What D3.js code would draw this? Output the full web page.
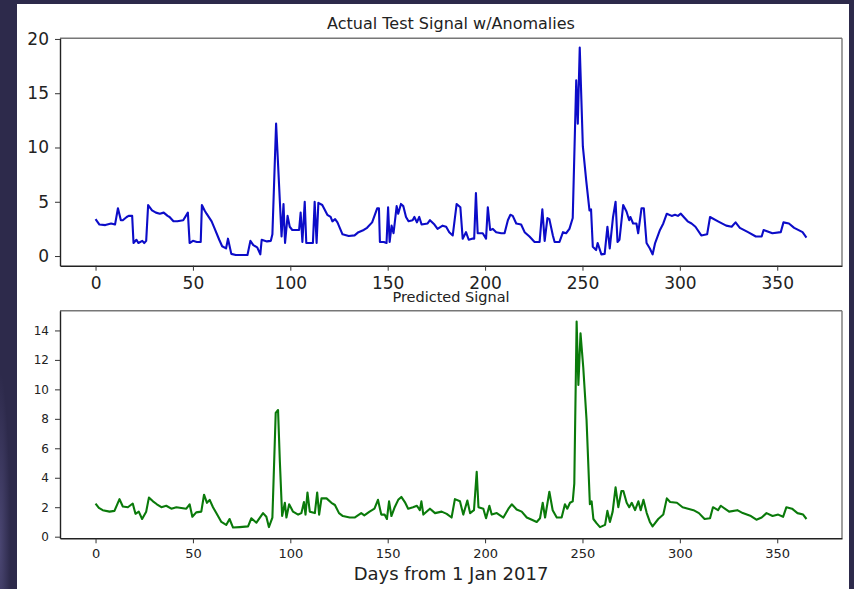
<!DOCTYPE html>
<html>
<head>
<meta charset="utf-8">
<script src="https://cdn.jsdelivr.net/npm/d3@7"></script>
<style>
html,body{margin:0;padding:0;background:#2d2a4b;}
svg{display:block;}
text{font-family:"DejaVu Sans",sans-serif;fill:#222;}
</style>
</head>
<body>
<svg id="chart" width="854" height="589"></svg>
<script>
// ---- data ----
const actualDays = [0,2,5,8,10,11.5,13,14,16,17,18.8,19.5,21,22,24,25,26,27,29,31,33,35,37,38,40,42,45,47.4,48.3,50,52,54,54.6,56,57,59.6,61,63.5,65,67,68,69.7,72,75,78,79.5,81,83,84.6,85.3,88,90,90.8,92.7,95.5,96.5,97.3,98.6,99.7,101,104.5,105.3,106.2,107.4,108.2,111.6,112.5,113.5,114.4,116.4,119,120.7,121.6,123,124.2,126.8,130,133,135,137.7,139.4,142,144.6,145.5,146,148,149.4,150.2,151,152,153,154.6,155.4,156.8,158,159.4,160.7,162.8,163.7,165,166.2,167.4,170.5,171.7,174,175.6,178.2,180,181.6,183.4,185.4,187.3,188.5,190.2,191.6,193.3,194.4,195.3,196.2,198.8,200.5,201.4,202.6,204,205.7,208.3,210,211.7,213,214.2,216,218.5,220.3,222.8,225.4,228,229.4,230.6,232,233,234.8,235.7,238.2,240,241.6,243.3,245,246.8,247.6,248.6,250.2,251.9,253.6,254.4,255.3,257,257.8,259.7,261.4,262.8,264,265.7,267,268,269,270.9,272.6,274,274.6,276,277.7,278.6,280.3,281.5,282.9,284.6,286,287.3,289.8,291.5,293.3,295.8,297.5,299,300.5,302,304,306,308,311,314,315.5,319.6,323.8,326.6,328.6,330.8,335,339,342,343,347.5,351.8,353.2,356,358.7,363,365];
const actualVals = [3.4,2.9,2.85,3.0,2.9,4.4,3.3,3.3,3.6,3.7,3.7,1.2,1.5,1.2,1.4,1.2,1.4,4.7,4.2,4.0,3.9,4.0,3.7,3.6,3.2,3.2,3.3,4.0,1.2,1.4,1.3,1.3,4.7,4.2,3.9,3.2,2.6,1.5,0.9,0.7,1.6,0.2,0.1,0.1,0.1,1.4,1.0,0.8,0.15,1.5,1.35,1.4,2.0,12.2,1.8,4.8,1.2,3.7,2.7,2.4,2.4,4.0,1.3,5.0,1.2,1.2,5.0,1.2,4.9,4.7,3.8,3.6,3.2,3.4,3.1,2.0,1.85,1.9,2.2,2.4,2.6,3.1,4.4,4.4,1.3,1.3,1.2,4.5,1.3,2.8,2.1,4.6,3.9,4.8,4.6,3.6,3.2,3.3,3.6,3.1,3.6,2.9,3.0,3.3,2.9,2.5,2.8,2.7,2.2,1.9,4.8,4.5,1.6,2.2,1.5,1.6,1.6,5.8,2.1,2.1,1.6,4.5,2.4,2.5,2.2,2.1,2.1,3.3,3.8,3.7,3.0,2.9,2.2,1.8,1.3,1.3,4.3,1.4,3.5,3.4,1.9,1.3,1.3,2.2,2.1,2.5,3.5,16.2,12.2,19.2,10.1,7.0,4.2,4.3,0.85,0.55,1.2,0.15,0.2,2.7,0.7,3.6,5.0,1.3,1.5,4.7,4.1,3.3,3.6,3.0,3.0,2.1,4.4,4.4,1.2,0.7,0.15,1.2,2.4,3.0,3.9,3.7,3.8,3.7,3.9,3.6,3.2,3.0,2.7,1.9,2.0,3.6,3.2,2.8,2.7,3.1,2.6,2.2,1.8,1.8,2.4,2.1,2.2,3.1,3.0,2.6,2.2,1.7];

const predDays = [0,1.7,3.7,7.2,9.7,12.3,14,16.6,19.1,20.5,22.2,23.9,26,27.4,29.5,31.5,33.8,36.3,38.9,41.5,44,46.6,48.3,49.7,51.7,54.3,55.7,57.2,58.6,60.3,62,64.6,67.1,68.8,70.6,74,78.3,80,82.6,86,87.7,89,90.8,92.5,93.7,94.6,95.8,97.2,98,99.4,101.4,104,105.7,107,107.8,108.8,110,112.6,113.8,114.8,116,118.6,121.1,122.9,125,127,130.5,133,136.4,138,140.7,143.2,145,146.7,148.4,149.6,150.7,151.9,153.6,155.4,157,158.8,160.5,163,165,166.5,167.3,168.3,171.7,174.3,177.7,180.3,182.8,184.5,187.1,188.8,190.9,192.3,194.3,195.7,196.6,199.1,200.5,202.2,203.4,206,209.4,212,213.7,216.2,218.8,221.4,224,226.5,228.2,229.6,230.8,233,234.7,236.8,239.3,241,242.2,243.6,245,245.8,247,247.9,249,250.4,252.1,253.8,254.7,255.6,257.3,259,261.6,262.8,264.1,265.5,267,268.4,270,271,272.7,274,275.3,277,278.7,279.9,281.3,283,284.6,286,288.9,291.5,293.3,295,298.5,301.4,307,309.8,312.7,315.5,317,319.6,321,325.3,329.5,332.3,336.5,339.3,342,344.5,347.6,350.5,353,354.7,357.6,360.4,363.3,365];
const predVals = [2.25,1.95,1.8,1.7,1.75,2.55,2.05,2.0,2.25,1.55,1.7,1.2,1.7,2.65,2.4,2.2,2.0,2.1,1.9,2.0,1.95,1.9,2.2,1.35,1.65,1.7,2.85,2.3,2.5,2.0,1.6,1.0,0.8,1.2,0.62,0.65,0.7,1.25,0.95,1.6,1.35,0.65,1.3,8.4,8.6,5.2,1.4,2.3,1.3,2.2,1.7,1.5,1.6,2.35,1.5,3.0,1.7,1.6,3.0,1.5,2.6,2.6,2.3,2.15,1.6,1.4,1.3,1.3,1.6,1.45,1.7,1.9,2.5,1.5,1.5,1.2,2.4,1.4,2.0,2.5,2.7,2.35,1.9,2.0,2.1,1.8,2.4,1.5,1.9,1.6,1.7,1.55,1.3,2.55,2.4,1.5,2.45,1.6,1.8,4.4,2.0,1.9,1.25,2.1,1.5,1.6,1.3,1.9,2.2,1.85,1.7,1.3,1.15,1.0,1.25,2.3,1.3,3.05,1.8,1.3,1.3,2.2,1.9,2.3,2.4,3.6,14.6,10.3,13.8,11.5,7.9,2.2,2.4,1.2,0.9,0.65,0.8,1.75,1.0,1.7,3.35,2.0,3.1,3.1,2.3,2.0,2.3,1.8,2.4,1.8,2.5,1.6,1.0,0.7,1.2,1.5,2.6,2.35,2.3,2.0,1.8,1.6,1.2,1.25,2.0,1.8,2.1,1.7,1.8,1.6,1.4,1.15,1.3,1.6,1.4,1.5,1.35,2.0,1.9,1.6,1.5,1.2];

const xTicks = [0,50,100,150,200,250,300,350];
const topYTicks = [0,5,10,15,20];
const botYTicks = [0,2,4,6,8,10,12,14];
const topTitle = "Actual Test Signal w/Anomalies";
const botTitle = "Predicted Signal";
const xLabel = "Days from 1 Jan 2017";

// ---- drawing ----
const svg = d3.select("#chart");
const defs = svg.append("defs");
const rg = defs.append("radialGradient").attr("id","glow").attr("cx","0").attr("cy","0.85").attr("r","0.6");
rg.append("stop").attr("offset","0").attr("stop-color","#4a4672");
rg.append("stop").attr("offset","1").attr("stop-color","#2d2a4b");
svg.append("rect").attr("x",0).attr("y",0).attr("width",854).attr("height",589).attr("fill","#2d2a4b");
svg.append("rect").attr("x",0).attr("y",300).attr("width",17).attr("height",289).attr("fill","url(#glow)");
svg.append("rect").attr("x",17).attr("y",4).attr("width",832).attr("height",585).attr("fill","#ffffff");

const L = 60, R = 842;
const x = d3.scaleLinear().domain([-18.25, 383.25]).range([L, R]);

function panel(top, bottom, yDomain, yTicks, days, vals, color, tickFont, xTickFont, xPad){
  const y = d3.scaleLinear().domain(yDomain).range([bottom, top]);
  const g = svg.append("g");
  g.append("line").attr("x1",L).attr("x2",R).attr("y1",top).attr("y2",top).attr("stroke","#777").attr("stroke-width",1.4);
  g.append("line").attr("x1",R).attr("x2",R).attr("y1",top).attr("y2",bottom).attr("stroke","#777").attr("stroke-width",1.4);
  const line = d3.line().x((d,i)=>x(days[i])).y((d)=>y(d));
  g.append("path").datum(vals).attr("d",line).attr("fill","none").attr("stroke",color)
    .attr("stroke-width",2.1).attr("stroke-linejoin","round");
  const ax = g.append("g").attr("transform",`translate(0,${bottom})`)
    .call(d3.axisBottom(x).tickValues(xTicks).tickSize(5).tickSizeOuter(0).tickPadding(xPad).tickFormat(d3.format("d")));
  const ay = g.append("g").attr("transform",`translate(${L},0)`)
    .call(d3.axisLeft(y).tickValues(yTicks).tickSize(5).tickSizeOuter(0).tickPadding(6).tickFormat(d3.format("d")));
  [ax,ay].forEach(a=>{
    a.select(".domain").attr("stroke","#222").attr("stroke-width",1.4);
    a.selectAll(".tick line").attr("stroke","#333").attr("stroke-width",1);
  });
  ax.selectAll("text").attr("font-size",xTickFont).attr("fill","#222").attr("font-family","DejaVu Sans");
  ay.selectAll("text").attr("font-size",tickFont).attr("fill","#222").attr("font-family","DejaVu Sans");
}

panel(38.3, 265.7, [-0.89, 20.06], topYTicks, actualDays, actualVals, "#0c0cc8", 17, 17, 6);
panel(310.7, 538.3, [-0.11, 15.34], botYTicks, predDays, predVals, "#0a7a0a", 12, 13, 5);

svg.append("text").attr("x",(L+R)/2).attr("y",29.3).attr("text-anchor","middle")
  .attr("font-size",16).text(topTitle);
svg.append("text").attr("x",(L+R)/2).attr("y",301.5).attr("text-anchor","middle")
  .attr("font-size",14.5).text(botTitle);
svg.append("text").attr("x",(L+R)/2).attr("y",580).attr("text-anchor","middle")
  .attr("font-size",18).text(xLabel);
</script>
</body>
</html>
